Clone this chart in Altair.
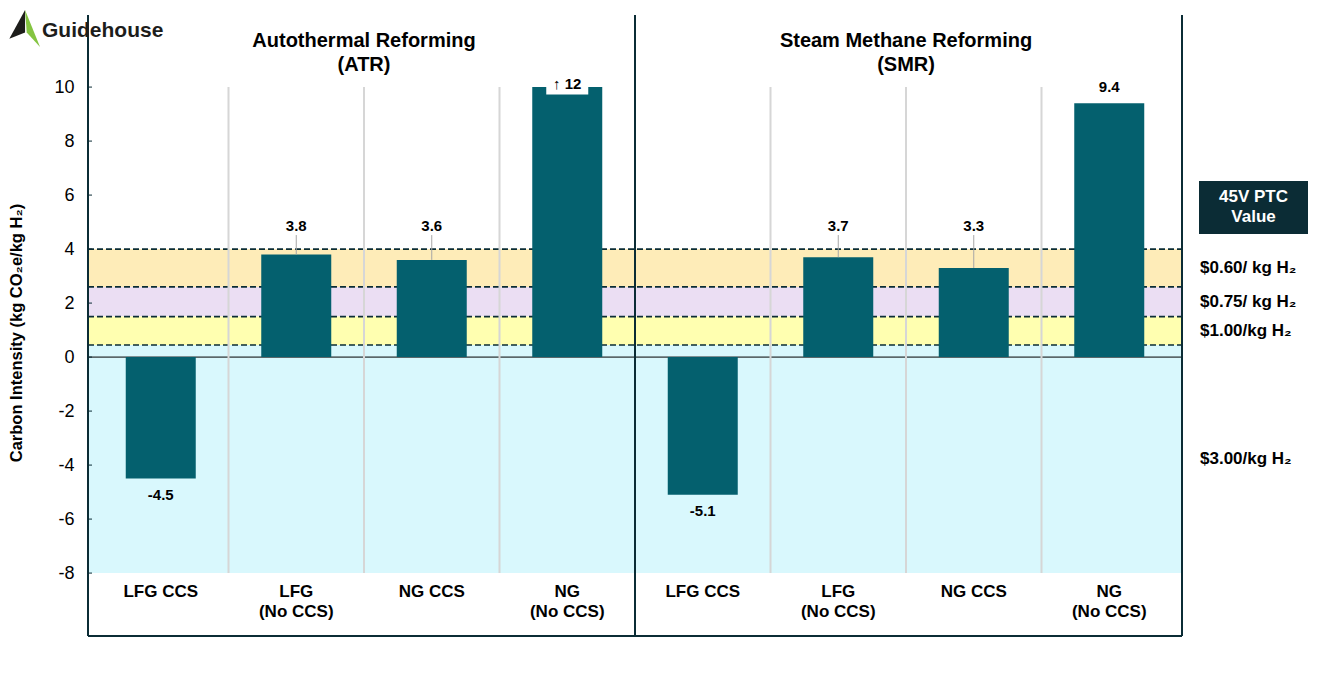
import altair as alt
import pandas as pd

# ---------------- data ----------------
categories = ["LFG CCS", "LFG\n(No CCS)", "NG CCS", "NG\n(No CCS)"]
panel_titles = ["Autothermal Reforming\n(ATR)", "Steam Methane Reforming\n(SMR)"]
atr_values = [-4.5, 3.8, 3.6, 12.0]
smr_values = [-5.1, 3.7, 3.3, 9.4]
axis_cap = 10
band_edges = [4.0, 2.6, 1.5, 0.45, -8.0]
band_labels = ["$0.60/ kg H₂", "$0.75/ kg H₂", "$1.00/kg H₂", "$3.00/kg H₂"]
band_colors = ["#FEECB8", "#EBDEF3", "#FFFFB0", "#D9F8FD"]
y_ticks = [-8, -6, -4, -2, 0, 2, 4, 6, 8, 10]
legend_title = "45V PTC\nValue"
y_title = "Carbon Intensity (kg CO₂e/kg H₂)"
logo_text = "Guidehouse"

# ---------------- layout ----------------
W, H = 1094, 621
Y_DOM = [-10.33, 12.67]
n_cat = len(categories)
X_DOM = [0, n_cat * len(panel_titles)]
BAR = "#04606E"
DARK = "#0B2C35"
FONT = "Arial, Liberation Sans, sans-serif"

xs = alt.Scale(domain=X_DOM, nice=False, zero=False)
ys = alt.Scale(domain=Y_DOM, nice=False, zero=False)
yaxis = alt.Axis(values=y_ticks, domain=False, ticks=False, grid=False,
                 labelFontSize=18, labelPadding=14, labelColor="#000000",
                 labelFont=FONT, title=None,
                 labelExpr="datum.value < 0 ? '-' + abs(datum.value) : '' + datum.value")


def X(field):
    return alt.X(field, type="quantitative", scale=xs, axis=None)


def Y(field):
    return alt.Y(field, type="quantitative", scale=ys, axis=yaxis)


def Y2(field):
    return alt.Y2(field)


# bars table
rows = []
for p, vals in enumerate([atr_values, smr_values]):
    for i, v in enumerate(vals):
        pos = p * n_cat + i + 0.5
        shown = min(v, axis_cap)
        capped = v > axis_cap
        if capped:
            label = "↑ " + f"{v:g}"
            ly = axis_cap + 0.12
        elif v >= 0:
            label = f"{v:g}"
            ly = max(shown, 4.25) + 0.6
        else:
            label = f"{v:g}"
            ly = v - 0.6
        lead = (v >= 0) and (not capped) and (ly - shown > 0.75)
        rows.append(dict(pos=pos, value=shown, zero=0, label=label, ly=ly,
                         capped=capped, lead=lead, lead_top=ly - 0.33,
                         box_lo=axis_cap - 0.27, box_hi=axis_cap + 0.5))
bars_df = pd.DataFrame(rows)

cat_df = pd.DataFrame([dict(pos=p * n_cat + i + 0.5, label=c, y=-8.42)
                       for p in range(len(panel_titles)) for i, c in enumerate(categories)])
title_df = pd.DataFrame([dict(pos=p * n_cat + n_cat / 2, label=t, y=11.7)
                         for p, t in enumerate(panel_titles)])
sep_df = pd.DataFrame([dict(pos=p * n_cat + i, lo=y_ticks[0], hi=y_ticks[-1])
                       for p in range(len(panel_titles)) for i in range(1, n_cat)])
band_df = pd.DataFrame([dict(top=band_edges[k], bottom=band_edges[k + 1],
                             color=band_colors[k], label=band_labels[k],
                             mid=(band_edges[k] + band_edges[k + 1]) / 2)
                        for k in range(len(band_labels))])
dash_df = pd.DataFrame(dict(y=band_edges[:-1]))
tick_df = pd.DataFrame(dict(y=y_ticks))
zero_df = pd.DataFrame(dict(y=[0]))
mid_df = pd.DataFrame(dict(pos=[n_cat]))

base = alt.Chart(bars_df)

bands = alt.Chart(band_df).mark_rect().encode(
    x=alt.value(0), x2=alt.value(W),
    y=Y("top"), y2=Y2("bottom"),
    color=alt.Color("color:N", scale=None))

dashes = alt.Chart(dash_df).mark_rule(color=DARK, strokeWidth=1.6, strokeDash=[6, 3]).encode(
    x=alt.value(0), x2=alt.value(W), y=Y("y"))

zero_line = alt.Chart(zero_df).mark_rule(color="#000000", strokeWidth=1).encode(
    x=alt.value(0), x2=alt.value(W), y=Y("y"))

seps = alt.Chart(sep_df).mark_rule(color="#D6D6D6", strokeWidth=2).encode(
    x=X("pos"), y=Y("lo"), y2=Y2("hi"))

bars = base.mark_bar(size=70, color=BAR).encode(
    x=X("pos"), y=Y("zero"), y2=Y2("value"))

leaders = base.transform_filter("datum.lead").mark_rule(color="#A6A6A6", strokeWidth=1).encode(
    x=X("pos"), y=Y("value"), y2=Y2("lead_top"))

cap_box = base.transform_filter("datum.capped").mark_bar(size=42, color="#FFFFFF").encode(
    x=X("pos"), y=Y("box_lo"), y2=Y2("box_hi"))

value_labels = base.mark_text(fontSize=15, fontWeight="bold", font=FONT, color="#000000",
                              baseline="middle").encode(
    x=X("pos"), y=Y("ly"), text="label:N")

cat_labels = alt.Chart(cat_df).mark_text(fontSize=17, fontWeight="bold", font=FONT,
                                         color="#000000", baseline="top", lineBreak="\n",
                                         lineHeight=20).encode(
    x=X("pos"), y=Y("y"), text="label:N")

titles = alt.Chart(title_df).mark_text(fontSize=20, fontWeight="bold", font=FONT,
                                       color="#000000", baseline="middle", lineBreak="\n",
                                       lineHeight=24).encode(
    x=X("pos"), y=Y("y"), text="label:N")

frame_l = alt.Chart(zero_df).mark_rule(color=DARK, strokeWidth=2).encode(
    x=alt.value(0), y=alt.value(0), y2=alt.value(H))
frame_r = alt.Chart(zero_df).mark_rule(color=DARK, strokeWidth=2).encode(
    x=alt.value(W), y=alt.value(0), y2=alt.value(H))
frame_b = alt.Chart(zero_df).mark_rule(color=DARK, strokeWidth=2).encode(
    x=alt.value(0), x2=alt.value(W), y=alt.value(H))
frame_m = alt.Chart(mid_df).mark_rule(color=DARK, strokeWidth=2).encode(
    x=X("pos"), y=alt.value(0), y2=alt.value(H))

ticks = alt.Chart(tick_df).mark_rule(color=DARK, strokeWidth=1).encode(
    x=alt.value(0), x2=alt.value(4), y=Y("y"))

legend_box = alt.Chart(zero_df).mark_rect(color=DARK).encode(
    x=alt.value(1111), x2=alt.value(1220), y=alt.value(166), y2=alt.value(219))
legend_txt = alt.Chart(pd.DataFrame(dict(t=[legend_title]))).mark_text(
    fontSize=17, fontWeight="bold", font=FONT, color="#FFFFFF", baseline="middle",
    lineBreak="\n", lineHeight=20).encode(
    x=alt.value(1165.5), y=alt.value(182), text="t:N")

band_txt = alt.Chart(band_df).mark_text(fontSize=17, fontWeight="bold", font=FONT,
                                        color="#000000", align="left", baseline="middle").encode(
    x=alt.value(1112), y=Y("mid"), text="label:N")

ytitle = alt.Chart(pd.DataFrame(dict(t=[y_title]))).mark_text(
    fontSize=16.5, fontWeight="bold", font=FONT, color="#000000", angle=270,
    baseline="middle").encode(
    x=alt.value(-71), y=alt.value(318), text="t:N")

logo = alt.Chart(pd.DataFrame(dict(t=[logo_text]))).mark_text(
    fontSize=21, fontWeight="bold", font=FONT, color="#1D1D1B", align="left",
    baseline="middle").encode(
    x=alt.value(-46), y=alt.value(16), text="t:N")

logo_black = alt.Chart(zero_df).mark_point(
    shape="M0.03,-1L-0.82,0.55L0.03,0.22Z", filled=True, opacity=1,
    color="#1D1D1B", size=1369, strokeWidth=0).encode(
    x=alt.value(24.5 - 88), y=alt.value(28.5 - 15))
logo_green = alt.Chart(zero_df).mark_point(
    shape="M0.03,-1L0.12,0.22L0.84,1Z", filled=True, opacity=1,
    color="#84C441", size=1369, strokeWidth=0).encode(
    x=alt.value(24.5 - 88), y=alt.value(28.5 - 15))

chart = alt.layer(
    bands, dashes, zero_line, seps, bars, leaders, cap_box, value_labels,
    cat_labels, titles, frame_l, frame_r, frame_b, frame_m, ticks,
    legend_box, legend_txt, band_txt, ytitle, logo, logo_green, logo_black
).properties(
    width=W, height=H,
    autosize=alt.AutoSizeParams(type="none"),
    padding={"left": 80, "top": 7, "right": 128, "bottom": 25},
).configure_view(stroke=None)

chart.save("out.html", embed_options={"renderer": "svg", "actions": False})
